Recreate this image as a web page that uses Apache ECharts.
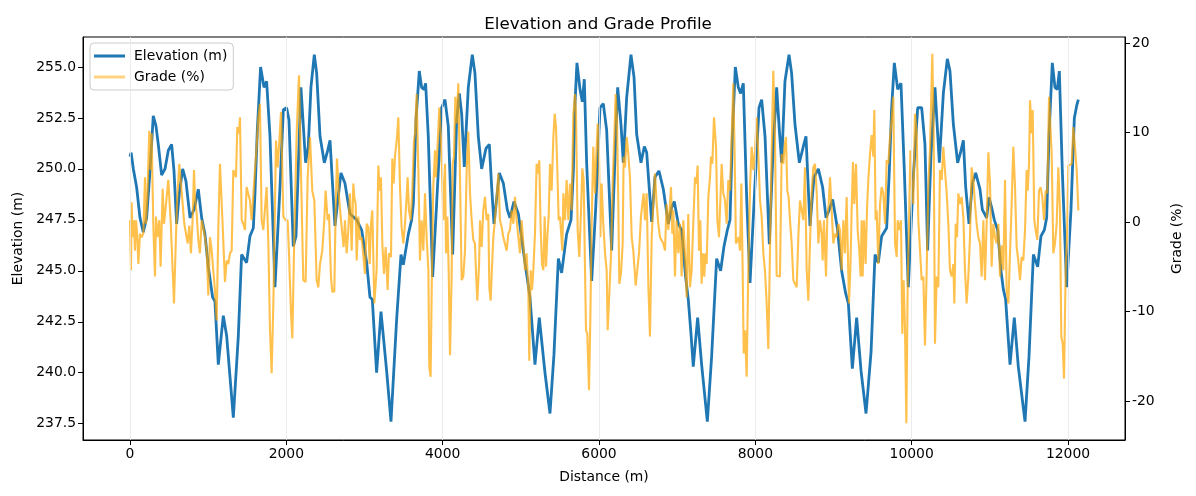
<!DOCTYPE html>
<html>
<head>
<meta charset="utf-8">
<script src="https://cdn.jsdelivr.net/npm/echarts@6/dist/echarts.min.js"></script>
<style>html,body{margin:0;padding:0;background:#fff}#c{width:1196px;height:496px}</style>
</head>
<body>
<div id="c"></div>
<script>
const chartTitle = 'Elevation and Grade Profile';
const seriesNames = ['Elevation (m)', 'Grade (%)'];
const xTicks = [0, 2000, 4000, 6000, 8000, 10000, 12000];
const elevTicks = [237.5, 240, 242.5, 245, 247.5, 250, 252.5, 255];
const gradeTicks = [-20, -10, 0, 10, 20];

// [distance (m), elevation (m)]
const elevation = [
[0,250.6],[15,250.8],[43,250.0],[85,249.1],[128,247.6],[170,246.9],[213,247.6],[256,249.9],[298,252.6],[333,252.1],
[362,251.2],[405,249.7],[448,250.0],[490,250.9],[533,251.2],[563,249.9],[597,247.3],[631,248.8],[674,250.0],[716,249.4],
[768,247.6],[819,248.0],[874,249.0],[917,247.6],[959,246.8],[1002,245.2],[1057,243.7],[1087,243.5],[1130,240.4],[1194,242.8],
[1237,241.8],[1322,237.8],[1386,241.8],[1428,245.8],[1492,245.4],[1535,246.7],[1578,247.1],[1599,248.8],[1629,251.9],[1671,255.0],
[1714,254.0],[1748,254.3],[1791,251.6],[1855,244.2],[1919,249.1],[1962,252.9],[2004,253.0],[2034,252.4],[2089,246.2],[2124,246.7],
[2187,254.0],[2247,250.3],[2281,251.1],[2315,254.0],[2358,255.6],[2388,254.7],[2431,251.6],[2486,250.3],[2529,250.9],[2559,251.4],
[2622,247.2],[2699,249.8],[2750,249.3],[2814,247.8],[2900,247.5],[2964,247.0],[3028,245.4],[3070,243.7],[3100,243.6],[3155,240.0],
[3211,243.0],[3283,240.1],[3339,237.6],[3411,242.6],[3467,245.8],[3497,245.3],[3561,246.8],[3603,247.5],[3625,248.3],[3659,252.4],
[3701,254.8],[3731,254.0],[3761,253.9],[3782,254.2],[3816,251.6],[3872,244.7],[3923,248.3],[3987,253.0],[4030,253.4],[4072,252.1],
[4128,245.8],[4179,252.4],[4213,253.7],[4243,252.7],[4277,250.1],[4328,254.0],[4379,255.6],[4413,254.7],[4456,251.6],[4499,250.0],
[4554,251.0],[4597,251.2],[4627,249.1],[4657,247.3],[4725,249.8],[4776,249.3],[4827,248.0],[4861,247.6],[4912,248.4],[4968,247.8],
[5053,245.4],[5117,243.7],[5181,240.4],[5236,242.7],[5309,240.0],[5373,238.0],[5424,240.9],[5480,245.6],[5522,244.9],[5586,246.8],
[5642,247.5],[5672,249.9],[5693,253.2],[5718,255.2],[5757,253.9],[5787,253.3],[5812,254.4],[5842,250.3],[5906,244.5],[5957,248.0],
[6013,253.0],[6055,253.2],[6098,251.9],[6162,246.0],[6205,250.6],[6239,254.0],[6281,252.2],[6311,250.3],[6354,253.5],[6409,255.6],
[6448,254.5],[6482,251.7],[6537,250.3],[6580,251.1],[6610,250.8],[6674,247.4],[6716,249.6],[6767,249.9],[6823,249.0],[6887,247.3],
[6929,248.1],[6963,248.4],[7015,247.3],[7057,247.0],[7108,244.7],[7142,243.6],[7177,241.9],[7206,240.3],[7262,242.7],[7313,240.4],
[7386,237.6],[7441,240.8],[7505,245.6],[7556,245.0],[7599,246.2],[7642,247.0],[7676,247.5],[7706,251.6],[7744,255.0],[7782,254.0],
[7812,253.7],[7846,254.2],[7889,248.6],[7932,244.4],[7983,248.3],[8047,253.0],[8081,253.4],[8124,251.6],[8179,246.3],[8230,251.2],
[8273,254.0],[8307,251.9],[8337,250.3],[8379,254.3],[8431,255.6],[8464,254.7],[8507,252.2],[8563,250.3],[8614,251.1],[8648,251.6],
[8699,247.2],[8750,249.6],[8806,250.0],[8861,249.1],[8904,247.6],[8946,248.0],[8989,248.5],[9049,247.1],[9104,245.0],[9155,243.9],
[9190,243.4],[9241,240.2],[9296,242.7],[9352,240.1],[9416,238.0],[9480,241.0],[9531,245.8],[9573,245.4],[9616,246.7],[9680,247.1],
[9714,249.9],[9744,253.0],[9778,255.2],[9821,253.9],[9863,254.2],[9906,249.9],[9957,244.2],[10021,249.6],[10077,253.0],[10128,253.0],
[10170,251.2],[10204,246.0],[10247,250.7],[10298,254.0],[10354,250.3],[10405,253.7],[10456,255.4],[10490,254.8],[10533,252.2],[10588,250.3],
[10631,250.9],[10661,251.4],[10691,249.1],[10733,247.3],[10776,249.3],[10819,249.8],[10874,249.0],[10904,248.0],[10959,247.6],[10989,248.6],
[11023,248.1],[11057,247.5],[11100,247.0],[11143,245.0],[11172,244.1],[11202,243.6],[11228,242.1],[11258,240.4],[11313,242.7],[11364,240.3],
[11450,237.6],[11501,240.8],[11557,245.8],[11612,245.2],[11654,246.7],[11697,247.0],[11727,247.6],[11757,251.6],[11799,255.2],[11833,254.0],
[11863,253.9],[11889,254.8],[11927,249.9],[11983,244.2],[12038,248.0],[12081,252.5],[12111,253.1],[12132,253.4]
];

// [distance (m), grade (%)]
const grade = [
[0,0.2],[13,-5.4],[21,2.2],[34,-1.7],[51,0.2],[64,-3.2],[77,0.2],[94,-1.7],[107,-4.7],[128,-1.3],
[149,-1.7],[171,-1.3],[192,5.0],[205,-0.2],[222,2.8],[247,10.2],[264,5.8],[277,9.9],[298,-0.2],[320,-6.1],
[333,0.6],[350,-1.7],[375,0.2],[392,-5.0],[418,3.7],[435,-0.2],[461,2.0],[490,4.7],[520,0.2],[542,0.2],
[563,-9.1],[588,-1.7],[605,2.8],[631,6.5],[652,6.5],[674,2.0],[695,-0.2],[716,-1.3],[738,-2.4],[759,-0.4],
[780,-3.5],[801,0.2],[819,5.8],[831,2.8],[853,0.9],[874,-2.0],[895,-3.5],[917,0.2],[938,-0.6],[959,-1.7],
[981,-3.2],[1002,-8.2],[1023,-1.7],[1045,-3.2],[1066,-5.4],[1087,-7.6],[1109,-11.0],[1130,-0.8],[1151,6.5],[1173,6.7],
[1185,-0.2],[1215,-6.7],[1237,-4.3],[1258,-4.7],[1279,-3.5],[1301,-3.2],[1322,5.8],[1343,5.8],[1356,5.0],[1373,10.6],
[1394,9.9],[1407,11.7],[1429,0.2],[1450,-0.2],[1471,-0.9],[1492,3.9],[1514,3.7],[1535,2.4],[1556,0.2],[1578,0.2],
[1599,5.8],[1620,8.4],[1642,11.7],[1663,13.2],[1684,0.2],[1706,-0.9],
[1748,3.9],[1770,-2.4],[1791,-12.1],[1812,-16.9],[1834,-9.1],[1855,2.0],[1868,9.1],[1889,6.1],[1906,8.4],[1932,12.3],
[1962,0.6],[1991,0.2],[2017,0.2],[2034,-3.5],[2060,-10.2],[2077,-13.0],[2102,-1.7],[2132,9.9],[2162,16.4],[2187,5.8],
[2217,-6.5],[2247,-6.7],[2273,5.0],[2303,9.5],[2332,3.5],[2358,2.4],[2388,-6.5],[2409,-7.3],[2431,-4.7],[2460,-3.2],
[2486,0.2],[2503,3.5],[2529,0.2],[2546,0.9],[2571,-6.1],[2588,-7.8],[2614,-7.8],[2631,1.3],[2648,7.1],[2674,2.8],
[2699,0.2],[2716,0.2],[2733,-2.8],[2750,0.2],[2772,-3.5],[2793,-0.9],[2814,3.2],[2836,-3.2],[2857,4.3],[2870,2.8],
[2887,2.0],[2900,-4.3],[2921,0.6],[2942,-2.0],[2964,-1.7],[2985,-1.7],[3006,-5.8],[3028,-0.2],[3049,-0.6],[3066,-4.7],
[3083,-0.2],[3100,1.3],[3126,-9.1],[3155,-5.4],[3177,6.3],[3194,3.5],[3211,5.0],[3228,-2.4],[3249,-5.8],[3271,-2.8],
[3296,-7.6],[3313,-3.5],[3339,-3.9],[3356,7.1],[3373,4.3],[3390,7.3],[3416,9.5],[3433,11.7],[3454,3.9],[3475,-0.6],
[3497,-2.4],[3518,-0.2],[3539,2.8],[3552,5.0],[3569,1.3],[3591,0.2],[3612,3.5],[3633,9.1],
[3646,9.9],[3667,14.3],[3689,5.8],[3710,-4.3],[3731,0.2],[3753,-3.2],[3774,3.2],[3795,-1.7],[3817,-5.4],[3829,-16.2],
[3846,-17.3],[3863,-5.4],[3880,3.9],[3902,8.0],[3915,5.0],[3932,8.0],[3957,12.8],[3974,9.9],[3987,7.3],[4008,0.2],
[4030,6.5],[4043,-3.5],[4060,0.6],[4077,-5.4],[4094,-14.9],[4115,-6.1],[4128,6.5],[4145,7.3],[4162,14.0],[4179,11.0],
[4200,15.5],[4222,5.0],[4243,-6.5],[4264,-6.1],[4286,-3.2],[4307,5.8],[4328,10.1],[4350,3.2],[4371,0.2],[4392,-2.0],
[4413,-2.4],[4426,-5.4],[4443,-8.8],[4465,-5.0],[4478,0.2],[4499,-2.8],[4520,1.3],[4541,2.8],[4563,0.2],[4584,0.9],
[4597,-7.3],[4614,-8.8],[4631,-5.0],[4648,-1.7],[4669,0.2],[4691,2.8],[4712,5.4],[4733,0.2],[4755,-0.6],[4776,-1.7],
[4797,-1.7],[4819,-3.2],[4840,-1.3],[4861,-0.9],[4883,1.3],[4904,-0.2],[4925,2.8],[4946,0.2],[4968,-1.7],[4989,-3.5],
[5010,0.2],[5032,-2.4],[5053,-5.4],[5074,-3.5],[5096,-7.6],[5108,-15.5],[5126,-5.4],[5143,-7.6],[5160,-5.4],[5181,-1.3],
[5202,6.5],[5219,5.4],[5236,6.9],[5253,-0.6],[5271,-4.7],[5288,-5.4],[5305,0.6],[5322,-5.0],[5339,-1.7],[5356,0.6],
[5373,6.5],[5394,3.5],[5416,9.5],[5433,12.1],[5450,10.6],[5467,5.8],[5484,0.2],[5501,0.6],
[5531,-3.2],[5544,3.2],[5565,0.2],[5586,4.7],[5608,0.2],[5629,4.3],[5650,1.3],[5672,12.1],[5693,14.3],[5706,12.1],
[5727,-0.9],[5748,-3.9],[5770,1.3],[5787,6.0],[5804,4.7],[5821,-5.4],[5834,-12.1],[5851,-12.5],[5872,-18.8],[5889,-11.0],
[5906,-0.2],[5927,8.4],[5949,3.2],[5966,7.6],[5983,11.0],[6000,7.6],[6017,-1.7],[6034,4.3],[6055,-0.2],[6077,-3.5],
[6098,-5.4],[6111,-12.1],[6132,-12.1],[6153,-3.9],[6175,4.3],[6196,9.5],[6213,14.3],[6230,11.4],[6247,2.0],[6260,-6.9],
[6281,-5.8],[6303,-2.4],[6315,7.3],[6332,6.1],[6354,9.5],[6375,7.6],[6396,5.0],[6418,-1.7],[6439,-3.2],[6469,-7.1],
[6494,-5.0],[6512,-3.5],[6537,0.6],[6554,2.0],[6571,3.2],[6588,0.2],[6610,3.2],[6631,-6.9],[6652,-12.8],[6674,-1.7],
[6695,2.0],[6716,5.4],[6738,2.0],[6759,-0.2],[6780,-1.7],[6801,-1.7],[6823,-2.4],[6844,-3.2],[6865,2.0],[6887,-0.9],
[6908,2.0],[6921,3.9],[6938,-1.3],[6951,1.3],[6972,-6.1],[6993,0.2],[7015,-3.5],[7036,-0.2],[7057,-6.1],[7079,0.2],
[7100,-3.5],[7121,-8.4],[7142,0.9],[7164,-7.3],[7185,-5.4],[7206,-0.2],[7228,5.0],[7245,4.3],[7262,6.3],[7279,-3.2],
[7296,0.2],[7313,-6.9],[7330,-3.5],[7347,-6.1],
[7360,-3.5],[7377,-4.7],[7399,2.8],[7420,5.0],[7433,7.3],[7450,6.5],[7471,11.7],[7497,8.4],[7514,0.2],[7535,-1.7],
[7556,3.2],[7569,6.5],[7590,3.2],[7612,2.4],[7633,-0.2],[7654,4.7],[7676,3.5],[7697,9.5],[7718,15.5],[7735,7.6],
[7752,-2.4],[7770,-2.6],[7787,-1.7],[7804,-3.2],[7821,4.3],[7838,-5.4],[7851,-14.7],[7868,-12.1],[7889,-17.3],[7910,-5.4],
[7932,3.9],[7953,8.4],[7974,5.8],[7996,8.0],[8017,11.7],[8038,7.6],[8060,2.4],[8081,0.6],[8102,-3.5],[8123,-5.4],
[8145,-9.1],[8166,-14.2],[8187,-3.5],[8209,8.0],[8230,16.9],[8251,9.5],[8273,-6.0],[8294,-6.1],[8315,-6.1],[8337,7.6],
[8358,6.5],[8379,8.8],[8392,9.5],[8409,3.5],[8426,2.8],[8443,0.2],[8465,-2.4],[8486,-6.5],[8507,-6.9],[8529,-7.3],
[8550,-1.7],[8571,2.4],[8593,2.4],[8614,0.2],[8635,6.1],[8657,-5.4],[8678,-8.8],[8699,-2.4],[8720,3.2],[8742,6.1],
[8763,6.5],[8784,3.5],[8806,-2.4],[8827,0.2],[8848,-1.3],[8861,-4.3],[8878,0.2],[8904,-6.1],[8921,0.6],[8938,2.0],
[8955,5.0],[8976,1.3],[8998,-2.4],[9019,-1.3],[9040,-1.7],[9062,-0.2],[9083,-0.9],[9104,-5.4],[9126,0.2],[9147,-3.5],
[9168,2.8],
[9198,-9.1],[9215,-5.4],[9232,1.3],[9249,6.7],[9266,2.0],[9288,6.5],[9309,-0.9],[9330,-3.2],[9347,-6.1],[9360,0.2],
[9373,-6.1],[9390,0.2],[9411,-4.7],[9428,1.3],[9445,4.7],[9467,7.6],[9488,9.7],[9509,7.3],[9522,12.5],[9539,0.2],
[9552,1.3],[9573,-4.7],[9595,2.0],[9616,3.9],[9637,3.2],[9659,-0.2],[9680,6.9],[9701,6.5],[9723,9.5],[9744,11.4],
[9765,14.0],[9787,-2.4],[9808,-3.9],[9821,0.2],[9842,-0.9],[9863,0.2],[9880,-12.5],[9897,-6.5],[9914,-11.7],[9932,-22.5],
[9949,-6.9],[9966,-0.2],[9983,8.0],[10000,4.3],[10021,2.0],[10042,12.1],[10064,9.9],[10085,0.2],[10106,0.2],[10128,-6.5],
[10149,-6.1],[10170,-13.8],[10192,-5.4],[10213,3.9],[10234,8.0],[10264,18.8],[10281,10.6],[10298,-13.6],[10320,-6.1],[10341,-7.3],
[10362,5.8],[10384,4.7],[10405,8.4],[10426,5.8],[10448,3.2],[10469,-0.2],[10490,-5.4],[10511,-6.1],[10533,-4.7],[10546,-9.1],
[10563,-0.2],[10580,-1.7],[10597,3.2],[10618,2.0],[10639,2.8],[10661,0.6],[10682,-5.4],[10703,-9.1],[10725,-6.1],[10746,-1.7],
[10767,6.1],[10789,4.7],[10810,2.0],[10831,-0.2],[10853,-1.7],[10874,-2.4],[10895,-6.1],[10917,0.2],[10938,-6.5],[10959,-0.2],
[10981,7.8],[11002,4.3],[11023,-5.0],[11044,-0.2],[11066,-1.7],
[11087,-2.4],[11109,-0.2],[11130,-6.1],[11151,-2.6],[11173,-5.4],[11194,4.7],[11215,-7.6],[11237,-9.1],[11258,-3.5],[11279,2.0],
[11300,8.4],[11322,3.9],[11343,-2.8],[11364,-4.3],[11386,-6.5],[11407,-3.9],[11428,-4.3],[11450,-0.9],[11471,5.8],[11484,3.5],
[11501,6.5],[11514,13.6],[11535,9.9],[11548,12.5],[11569,0.2],[11586,-0.9],[11607,-2.0],[11629,3.5],[11650,3.9],[11671,2.8],
[11693,0.2],[11714,3.5],[11735,3.2],[11757,14.0],[11778,14.0],[11791,7.6],[11812,-3.5],[11833,-2.4],[11855,-0.2],[11876,6.1],
[11897,1.3],[11914,-12.8],[11932,-13.6],[11949,-17.5],[11970,-5.4],[11987,-1.7],[12004,6.3],[12025,6.3],[12047,6.5],[12068,10.6],
[12089,8.4],[12111,5.8],[12132,1.3]
];

const FONT = 'DejaVu Sans';
const chart = echarts.init(document.getElementById('c'), null, {renderer: 'canvas'});
const tickFont = {fontFamily: FONT, fontSize: 13.9, color: '#000'};

chart.setOption({
  animation: false,
  backgroundColor: '#fff',
  title: {
    text: chartTitle, left: 'center', top: 11,
    textStyle: {fontFamily: FONT, fontSize: 16.7, fontWeight: 'normal', color: '#000'}
  },
  legend: {
    left: 90, top: 43, orient: 'vertical',
    itemWidth: 31, itemHeight: 3, itemGap: 7,
    padding: [6, 6, 6, 4],
    backgroundColor: 'rgba(255,255,255,0.8)',
    borderColor: '#cccccc', borderWidth: 1, borderRadius: 4,
    textStyle: {fontFamily: FONT, fontSize: 13.9, color: '#000', padding: [0, 0, 0, 4]},
    data: [
      {name: seriesNames[0], icon: 'rect'},
      {name: seriesNames[1], icon: 'rect', itemStyle: {color: 'rgba(255,165,0,0.7)'}}
    ]
  },
  grid: {left: 83, right: 71, top: 37, bottom: 56, show: true, borderColor: '#000', borderWidth: 1, backgroundColor: 'transparent'},
  xAxis: {
    type: 'value', min: -601, max: 12729,
    name: 'Distance (m)', nameLocation: 'middle', nameGap: 30,
    nameTextStyle: tickFont,
    axisLine: {show: true, onZero: false, lineStyle: {color: '#000', width: 1}},
    axisTick: {show: true, customValues: xTicks, length: 5, lineStyle: {color: '#000'}},
    axisLabel: Object.assign({customValues: xTicks, margin: 7, formatter: v => String(v)}, tickFont),
    splitLine: {show: false}
  },
  yAxis: [
    {
      type: 'value', min: 236.7, max: 256.47, position: 'left',
      name: 'Elevation (m)', nameLocation: 'middle', nameGap: 54, nameRotate: 90,
      nameTextStyle: tickFont,
      axisLine: {show: true, onZero: false, lineStyle: {color: '#000'}},
      axisTick: {show: true, customValues: elevTicks, length: 5, lineStyle: {color: '#000'}},
      axisLabel: Object.assign({customValues: elevTicks, margin: 7, formatter: v => v.toFixed(1)}, tickFont),
      splitLine: {show: false}
    },
    {
      type: 'value', min: -24.36, max: 20.67, position: 'right',
      name: 'Grade (%)', nameLocation: 'middle', nameGap: 45, nameRotate: 90,
      nameTextStyle: tickFont,
      axisLine: {show: true, onZero: false, lineStyle: {color: '#000'}},
      axisTick: {show: true, customValues: gradeTicks, length: 5, lineStyle: {color: '#000'}},
      axisLabel: Object.assign({customValues: gradeTicks, margin: 7, formatter: v => String(v)}, tickFont),
      splitLine: {show: false}
    }
  ],
  series: [
    {
      name: '__grid', type: 'line', data: [], z: 1, silent: true,
      markLine: {
        silent: true, symbol: 'none', label: {show: false},
        lineStyle: {color: '#e7e7e7', width: 0.8, type: 'solid'},
        data: xTicks.map(v => ({xAxis: v}))
      }
    },
    {
      name: seriesNames[0], type: 'line', yAxisIndex: 0, data: elevation,
      showSymbol: false, symbol: 'none', z: 2,
      lineStyle: {color: '#1f77b4', width: 2.8}, itemStyle: {color: '#1f77b4'}
    },
    {
      name: seriesNames[1], type: 'line', yAxisIndex: 1, data: grade,
      showSymbol: false, symbol: 'none', z: 3,
      lineStyle: {color: '#ffa500', width: 2.1, opacity: 0.7}, itemStyle: {color: '#ffa500', opacity: 0.7}
    }
  ]
});
</script>
</body>
</html>
